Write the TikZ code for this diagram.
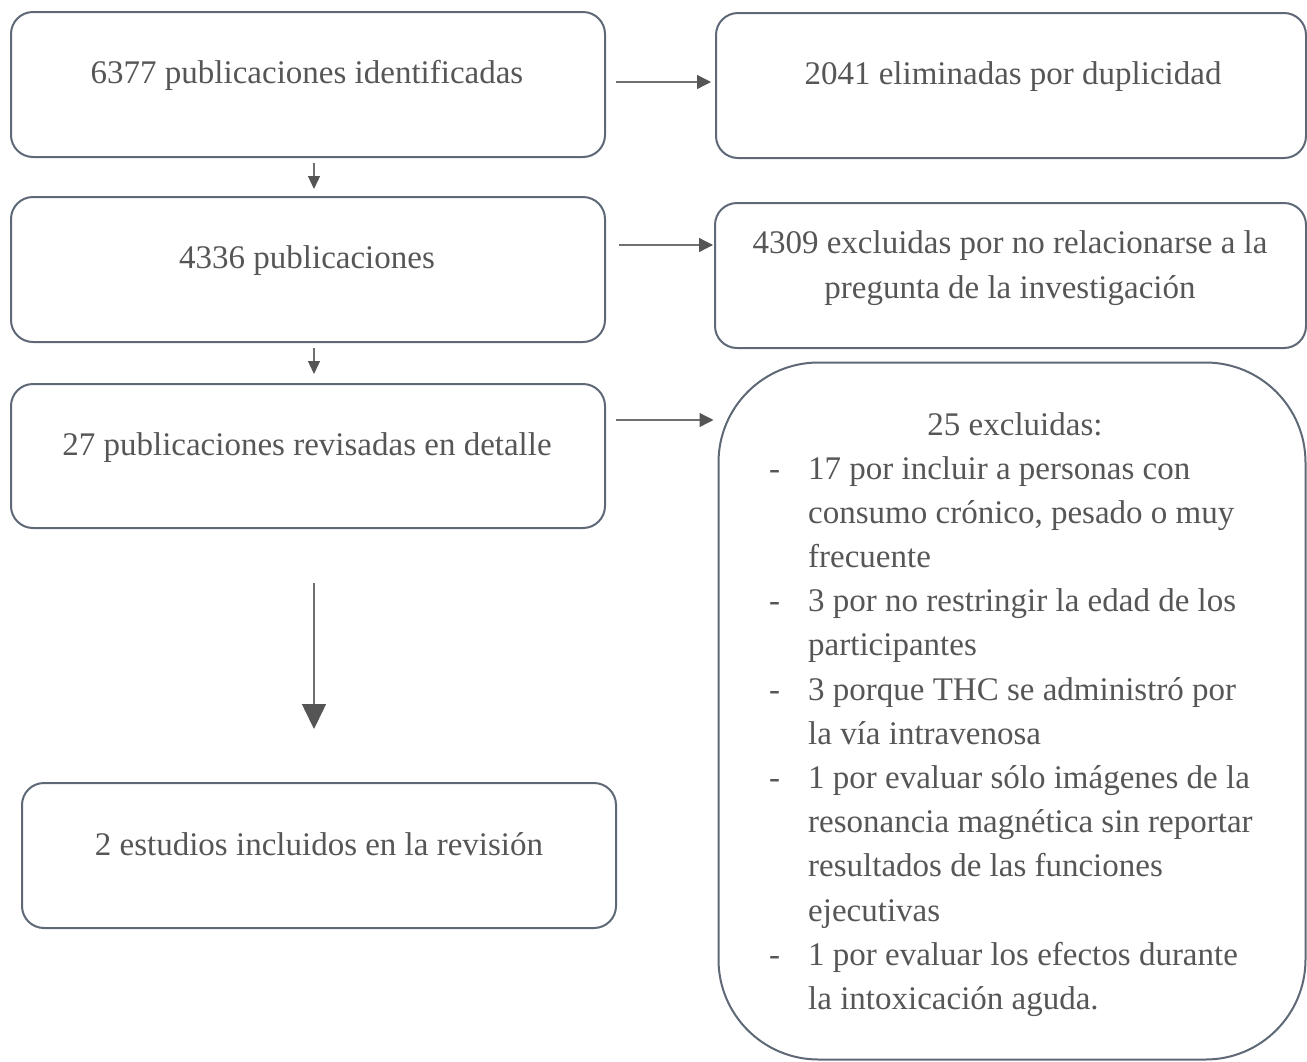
\documentclass[tikz,border=0pt]{standalone}
\usepackage{fontspec}
\setmainfont{Liberation Serif}
\usetikzlibrary{arrows.meta,calc}
\definecolor{bordc}{HTML}{5E6876}
\definecolor{txtc}{HTML}{565656}
\definecolor{arrc}{HTML}{707070}
\definecolor{headc}{HTML}{555555}
\begin{document}
\begin{tikzpicture}[x=1pt,y=-1pt,
  box/.style={draw=bordc,line width=2pt,rounded corners=22pt,inner sep=0pt},
  txt/.style={text=txtc,font=\fontsize{33}{44.2}\selectfont,inner sep=0pt,anchor=base},
  arr/.style={draw=arrc,line width=1.3pt,-{Triangle[length=14pt,width=14pt,color=headc]}},
  arrs/.style={draw=arrc,line width=1.3pt,-{Triangle[length=13pt,width=12pt,color=headc]}},
  arrl/.style={draw=arrc,line width=1.5pt,-{Triangle[length=25pt,width=24pt,color=headc]}}]
\useasboundingbox (0,0) rectangle (1307,1061);
% boxes
\node[box,minimum width=594pt,minimum height=145pt] (b1) at (308,84.5) {};
\node[box,minimum width=590pt,minimum height=145pt] (b2) at (1011,85.5) {};
\node[box,minimum width=594pt,minimum height=145pt] (b3) at (308,269.5) {};
\node[box,minimum width=591pt,minimum height=145pt] (b4) at (1010.5,275.5) {};
\node[box,minimum width=594pt,minimum height=144pt] (b5) at (308,456) {};
\node[box,rounded corners=100pt,minimum width=587pt,minimum height=697pt] (b6) at (1012,711) {};
\node[box,minimum width=594pt,minimum height=145pt] (b7) at (319,855.5) {};
% texts
\node[txt] (t1) at (307,83) {6377 publicaciones identificadas};
\node[txt] (t2) at (1013,84) {2041 eliminadas por duplicidad};
\node[txt] (t3) at (307,268) {4336 publicaciones};
\node[txt,align=center] (t4) at (1010,298) {4309 excluidas por no relacionarse a la\\pregunta de la investigación};
\node[txt] (t5) at (307,455) {27 publicaciones revisadas en detalle};
\node[txt] (t7) at (319,855) {2 estudios incluidos en la revisión};
\node[txt] (t6) at (1015,435) {25 excluidas:};
\node[txt,anchor=base west,align=left] (t6b) at (769,1009.5) {%
\makebox[39pt][l]{-}17 por incluir a personas con\\
\hspace*{39pt}consumo crónico, pesado o muy\\
\hspace*{39pt}frecuente\\
\makebox[39pt][l]{-}3 por no restringir la edad de los\\
\hspace*{39pt}participantes\\
\makebox[39pt][l]{-}3 porque THC se administró por\\
\hspace*{39pt}la vía intravenosa\\
\makebox[39pt][l]{-}1 por evaluar sólo imágenes de la\\
\hspace*{39pt}resonancia magnética sin reportar\\
\hspace*{39pt}resultados de las funciones\\
\hspace*{39pt}ejecutivas\\
\makebox[39pt][l]{-}1 por evaluar los efectos durante\\
\hspace*{39pt}la intoxicación aguda.};
% arrows
\draw[arr] ([xshift=10pt,yshift=2.5pt]b1.east) -- ([xshift=-4pt,yshift=3.5pt]b2.west);
\draw[arr] ([xshift=13pt,yshift=24.5pt]b3.east) -- ([xshift=-1pt,yshift=30.5pt]b4.west);
\draw[arr] ([xshift=10pt,yshift=36pt]b5.east) -- ([xshift=-4pt,yshift=291pt]b6.west);
\draw[arrs] ([xshift=6pt,yshift=-5pt]b1.south) -- ([xshift=6pt,yshift=7pt]b3.north);
\draw[arrs] ([xshift=6pt,yshift=-5pt]b3.south) -- ([xshift=6pt,yshift=9pt]b5.north);
\draw[arrl] ([xshift=6pt,yshift=-54pt]b5.south) -- ([xshift=-5pt,yshift=53pt]b7.north);
\end{tikzpicture}
\end{document}
